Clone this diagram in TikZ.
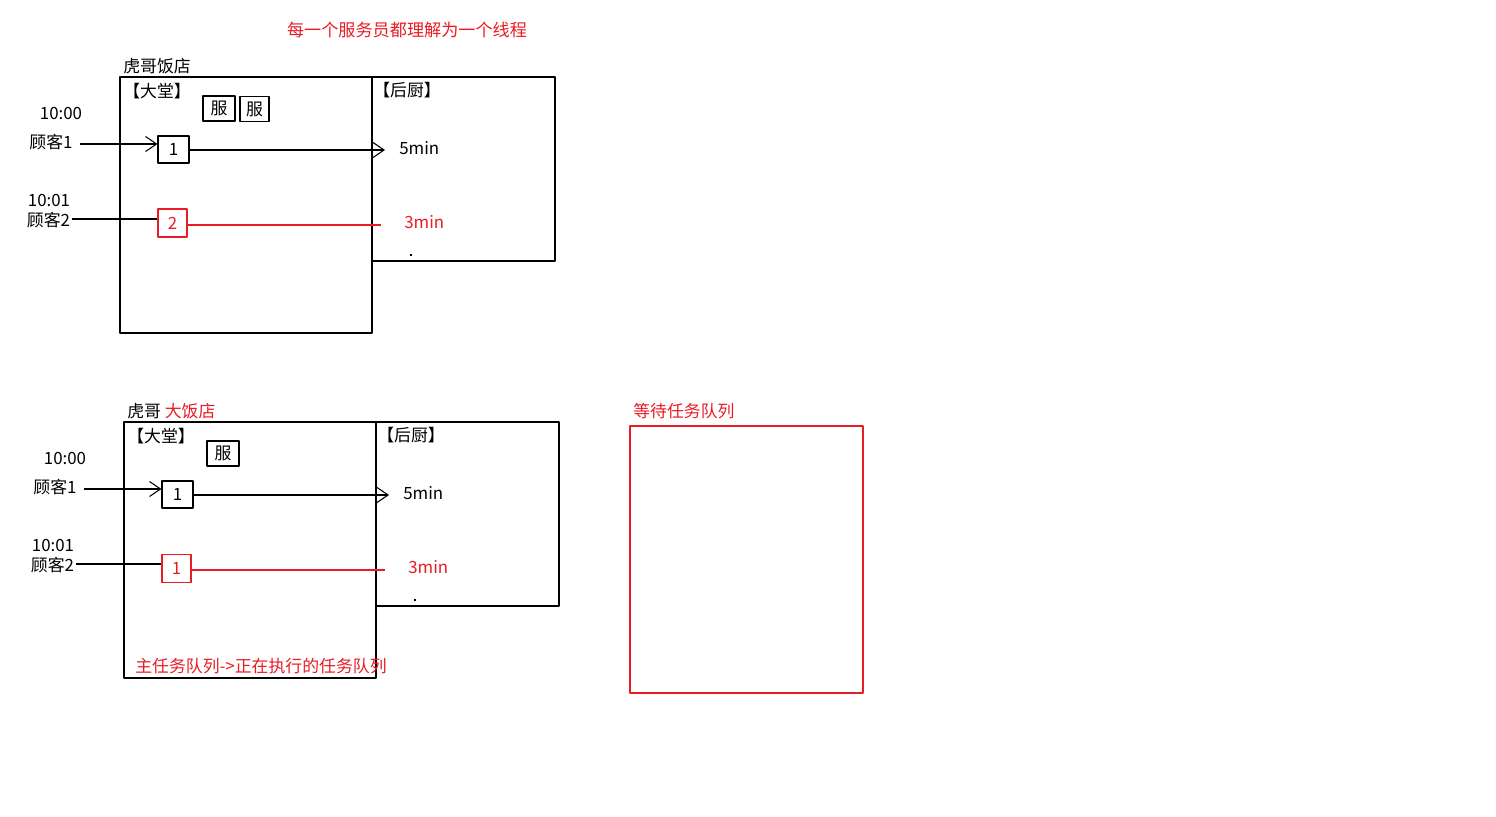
\documentclass[tikz,border=0pt]{standalone}
\usepackage{fontspec}
\usetikzlibrary{arrows.meta}
\newfontfamily\cjk{Noto Sans CJK SC}
\definecolor{hgred}{RGB}{232,28,36}

\begin{document}
\begin{tikzpicture}[x=0.02cm, y=-0.02cm, line join=round, line width=0.6pt,
    >={Straight Barb[length=2.2mm, width=3mm]},
    txt/.style={font=\cjk\fontsize{9.6}{11}\selectfont, inner sep=1pt},
    redtxt/.style={txt, text=hgred},
    waiter/.style={txt, draw, minimum width=0.64cm, minimum height=0.5cm},
    guestbox/.style={txt, draw, minimum width=0.62cm, minimum height=0.54cm},
    redbox/.style={guestbox, draw=hgred, text=hgred, minimum width=0.58cm, minimum height=0.56cm}]
    \useasboundingbox (0,0) rectangle (1496,817);

    \node [redtxt, font=\cjk\fontsize{9.75}{12}\selectfont] (title) at (407,30) {每一个服务员都理解为一个线程};

    % Restaurant 1
    \node [txt] (shop1) at (157,66) {虎哥饭店};
    \draw (120,77) rectangle (372,333);  % lobby
    \draw (372,77) rectangle (555,261);  % kitchen
    \node [txt, anchor=west] (hall1) at (121,91) {【大堂】};
    \node [txt, anchor=west] (kitchen1) at (371,90) {【后厨】};
    \node [waiter] (w1a) at (219,108.5) {服};
    \node [waiter, minimum width=0.58cm] (w1b) at (254.5,109) {服};

    \node [txt] (t1a) at (61,113) {10:00};
    \node [txt] (g1a) at (51,142) {顾客1};
    \node [guestbox] (b1a) at (173.5,149.5) {1};
    \coordinate (k1a) at (385,150);
    \node [txt, anchor=west] (m1a) at (397,148) {5min};
    \draw [->] (g1a.east) ++(5,2) -- (b1a.west |- 0,144);
    \draw [->] (b1a.east |- k1a) -- (k1a);

    \node [txt] (t1b) at (49,200) {10:01};
    \node [txt] (g1b) at (48.5,220) {顾客2};
    \node [redbox] (b1b) at (172.5,223) {2};
    \coordinate (k1b) at (381,225);
    \node [redtxt, anchor=west] (m1b) at (402,222) {3min};
    \draw (g1b.east |- 0,219) -- (b1b.west |- 0,219);
    \draw [hgred] (b1b.east |- k1b) -- (k1b);
    \fill (410,254) rectangle (412,256);

    % Restaurant 2
    \node [txt, anchor=west] (shop2) at (125,411) {虎哥 \textcolor{hgred}{大饭店}};
    \draw (124,422) rectangle (376,678);  % lobby
    \draw (376,422) rectangle (559,606);  % kitchen
    \node [txt, anchor=west] (hall2) at (125,436) {【大堂】};
    \node [txt, anchor=west] (kitchen2) at (375,435) {【后厨】};
    \node [waiter] (w2a) at (223,453.5) {服};

    \node [txt] (t2a) at (65,458) {10:00};
    \node [txt] (g2a) at (55,487) {顾客1};
    \node [guestbox] (b2a) at (177.5,494.5) {1};
    \coordinate (k2a) at (389,495);
    \node [txt, anchor=west] (m2a) at (401,493) {5min};
    \draw [->] (g2a.east) ++(5,2) -- (b2a.west |- 0,489);
    \draw [->] (b2a.east |- k2a) -- (k2a);

    \node [txt] (t2b) at (53,545) {10:01};
    \node [txt] (g2b) at (52.5,565) {顾客2};
    \node [redbox] (b2b) at (176.5,568.5) {1};
    \coordinate (k2b) at (385,570);
    \node [redtxt, anchor=west] (m2b) at (406,567) {3min};
    \draw (g2b.east |- 0,564) -- (b2b.west |- 0,564);
    \draw [hgred] (b2b.east |- k2b) -- (k2b);
    \fill (414,599) rectangle (416,601);

    \node [redtxt, anchor=west] (mainq) at (133,666) {主任务队列->正在执行的任务队列};

    % waiting queue
    \node [redtxt, anchor=west] (waitq) at (631,411) {等待任务队列};
    \draw [hgred] (630,426) rectangle (863,693);
\end{tikzpicture}
\end{document}
